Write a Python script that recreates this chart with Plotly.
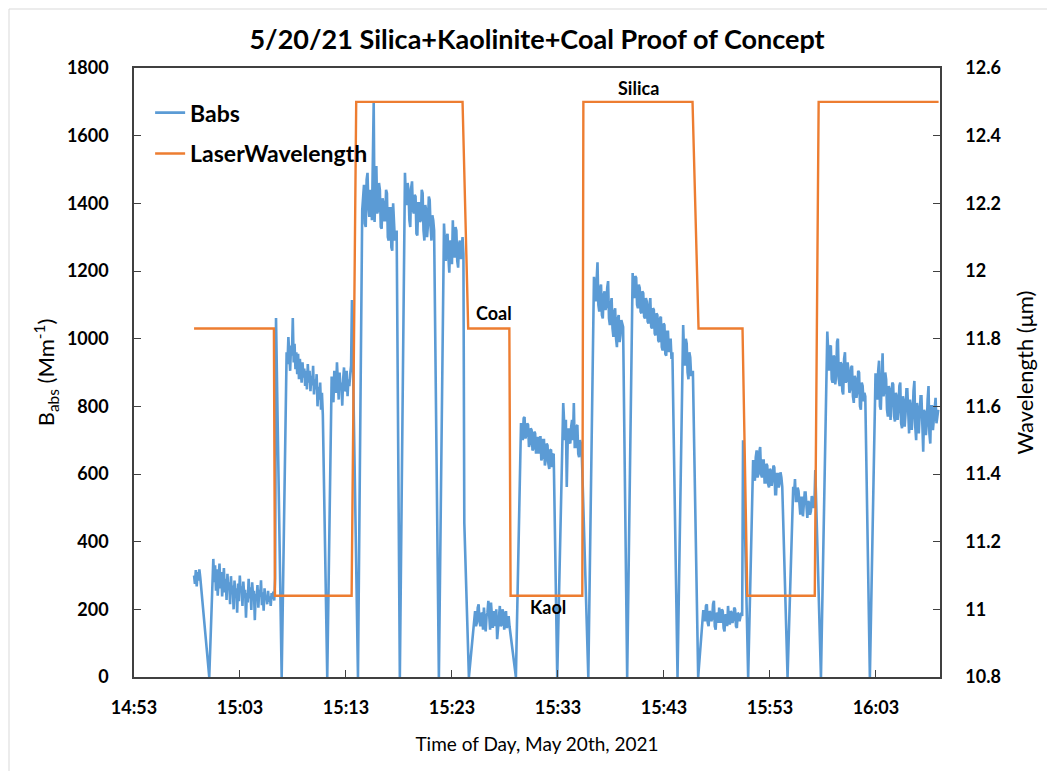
import pandas as pd
import plotly.graph_objects as go

DAY = "2021-05-20"
SAMPLE_STEP_S = 5  # Babs logger interval, seconds

# ---- Babs (Mm^-1) measurement runs: start time + one value per sample ----
run_a_start = "14:58:40"
run_a = [300, 275, 316, 268, 310, 285, 318, 295]

run_b_start = "15:00:29"
run_b = [349, 280, 330, 255, 318, 240, 300, 335, 262, 310, 238, 296, 322, 250,
         290, 228, 305, 260, 280, 215, 298, 245, 270, 200, 285, 236, 262, 190,
         276, 224, 300, 252, 268, 210, 282, 242, 258, 175, 248, 220, 290, 232,
         265, 198, 280, 240, 255, 168, 246, 228, 272, 205, 258, 237, 286, 212,
         250, 196, 262, 230, 240, 215, 255, 222, 238, 210, 248, 230, 252, 226,
         293, 1061]

run_c_start = "15:07:24"
run_c = [960, 925, 1005, 940, 905, 980, 950, 1061, 930, 985, 910, 960, 895, 955,
         880, 940, 905, 870, 930, 885, 912, 860, 905, 850, 925, 870, 905, 845,
         890, 862, 920, 835, 880, 850, 895, 800, 858, 820, 870, 790, 840, 775]

run_d_start = "15:11:39"
run_d = [888, 840, 812, 905, 860, 840, 930, 870, 820, 900, 850, 870, 802, 880,
         915, 845, 850, 905, 830, 880, 860, 895, 920, 1114]

run_e_start = "15:14:32"
run_e = [1380, 1430, 1455, 1340, 1330, 1470, 1490, 1390, 1360, 1440, 1420, 1350, 1480, 1697,
         1345, 1420, 1510, 1370, 1380, 1460, 1440, 1330, 1325, 1415, 1400, 1350, 1350, 1440,
         1430, 1300, 1290, 1385, 1385, 1270, 1260, 1400, 1350, 1290, 1300, 1320]

run_f_start = "15:18:34"
run_f = [1490, 1420, 1395, 1460, 1440, 1350, 1330, 1445, 1465, 1380, 1370, 1425, 1420, 1310,
         1305, 1400, 1400, 1345, 1350, 1440, 1430, 1320, 1290, 1395, 1380, 1300, 1335, 1420,
         1410, 1330, 1290, 1365, 1350, 1320]

run_g_start = "15:22:15"
run_g = [1340, 1280, 1230, 1300, 1310, 1240, 1195, 1290, 1285, 1220, 1350, 1260, 1240, 1330,
         1320, 1230, 1210, 1280, 1290, 1235, 1260, 1300, 1250, 455]

run_h_start = "15:25:01"
run_h = [140, 175, 195, 150, 160, 205, 215, 165, 150, 190, 185, 140, 205, 170,
         135, 180, 190, 225, 165, 140, 220, 175, 145, 195, 180, 150, 200, 112,
         165, 175, 210, 150, 155, 200, 190, 140, 170, 195, 145, 170, 180, 150]

run_i_start = "15:29:31"
run_i = [751, 720, 700, 765, 768, 705, 715, 750, 745, 680, 690, 735, 730, 670,
         675, 725, 720, 660, 695, 710, 660, 690, 712, 640, 650, 700, 700, 625,
         640, 690, 685, 630, 615, 670, 672, 620, 655, 660]

run_j_start = "15:33:30"
run_j = [810, 740, 700, 760, 562, 690, 735, 700, 690, 740, 760, 700, 810, 680,
         680, 740, 745, 660, 650, 700, 690, 662]

run_k_start = "15:36:24"
run_k = [1183, 1120, 1110, 1170, 1226, 1100, 1080, 1150, 1160, 1070, 1060, 1130, 1140, 1085,
         1095, 1150, 1170, 1060, 1040, 1100, 1120, 1030, 1005, 1080, 1090, 1000, 975, 1060,
         1070, 990, 1010, 1055, 1040, 1035]

run_l_start = "15:40:03"
run_l = [1194, 1130, 1120, 1185, 1180, 1100, 1090, 1160, 1150, 1080, 1075, 1140, 1135, 1065,
         1060, 1120, 1110, 1050, 1045, 1100, 1120, 1035, 1030, 1090, 1085, 1015, 1010, 1075,
         1070, 995, 990, 1060, 1065, 975, 965, 1045, 1040, 955, 950, 1020, 1020, 960,
         985, 1000, 940, 960]

run_m_start = "15:44:49"
run_m = [1040, 960, 920, 1000, 985, 900, 880, 960, 945, 890, 900, 905]

run_n_start = "15:46:43"
run_n = [198, 175, 165, 210, 215, 160, 150, 195, 190, 165, 172, 215, 225, 150,
         140, 190, 185, 160, 205, 175, 160, 200, 195, 145, 135, 185, 180, 150,
         210, 170, 155, 195, 190, 160, 170, 205, 200, 150, 145, 190, 185, 165,
         175, 190, 180, 700]

run_o_start = "15:51:25"
run_o = [641, 600, 580, 650, 670, 590, 600, 665, 680, 600, 590, 640, 640, 575,
         575, 630, 625, 570, 560, 615, 610, 565, 585, 625, 620, 540, 540, 600,
         600, 560, 575, 605, 590, 562]

run_p_start = "15:55:12"
run_p = [562, 540, 585, 520, 520, 560, 550, 490, 480, 530, 530, 475, 500, 545,
         545, 490, 470, 520, 515, 480, 490, 535, 525, 500, 510, 612]

run_q_start = "15:58:25"
run_q = [1021, 940, 905, 975, 980, 880, 870, 950, 945, 865, 890, 990, 1000, 880,
         860, 930, 925, 845, 835, 940, 960, 870, 880, 930, 905, 840, 850, 915,
         920, 830, 810, 890, 880, 825, 845, 905, 900, 800, 790, 870, 860, 815,
         840, 829]

run_r_start = "16:02:58"
run_r = [898, 850, 820, 905, 935, 800, 790, 880, 957, 830, 845, 900, 880, 790,
         770, 860, 850, 760, 800, 870, 865, 770, 755, 840, 830, 760, 790, 860,
         870, 750, 735, 830, 815, 740, 780, 850, 850, 740, 720, 820, 800, 730,
         770, 845, 875, 740, 700, 810, 790, 720, 760, 830, 830, 690, 666, 790,
         780, 715, 745, 820, 860, 720, 690, 800, 800, 730, 760, 815, 825, 750,
         780, 790]

# Filter-change dropouts, logged as zero
dropout_times = ["15:00:06", "15:06:56", "15:11:14", "15:14:08", "15:18:05",
                 "15:21:46", "15:24:36", "15:29:02", "15:32:56", "15:35:52",
                 "15:39:32", "15:44:17", "15:46:14", "15:50:57", "15:54:40",
                 "15:57:49", "16:02:26"]

# ---- Laser wavelength (um) set points ----
laser_times = ["14:58:40", "15:06:12", "15:06:18", "15:13:32", "15:13:58",
               "15:24:00", "15:24:32", "15:28:25", "15:28:32", "15:35:18",
               "15:35:24", "15:45:42", "15:46:16", "15:50:25", "15:50:52",
               "15:57:14", "15:57:36", "16:08:55"]
laser_um = [11.83, 11.83, 11.04, 11.04, 12.50,
            12.50, 11.83, 11.83, 11.04, 11.04,
            12.50, 12.50, 11.83, 11.83, 11.04,
            11.04, 12.50, 12.50]

# Material labels
label_text = ["Silica", "Coal", "Kaol"]
label_time = ["15:40:38", "15:26:58", "15:32:04"]
label_babs = [1741, 1076, 207]

# Axis ticks
x_tick_times = ["14:53", "15:03", "15:13", "15:23", "15:33", "15:43", "15:53", "16:03"]
y_left_ticks = [0, 200, 400, 600, 800, 1000, 1200, 1400, 1600, 1800]
y_right_ticks = [10.8, 11.0, 11.2, 11.4, 11.6, 11.8, 12.0, 12.2, 12.4, 12.6]
y_right_text = ["10.8", "11", "11.2", "11.4", "11.6", "11.8", "12", "12.2", "12.4", "12.6"]


def ts(hms):
    return pd.Timestamp(f"{DAY} {hms}")


runs = [(run_a_start, run_a), (run_b_start, run_b), (run_c_start, run_c),
        (run_d_start, run_d), (run_e_start, run_e), (run_f_start, run_f),
        (run_g_start, run_g), (run_h_start, run_h), (run_i_start, run_i),
        (run_j_start, run_j), (run_k_start, run_k), (run_l_start, run_l),
        (run_m_start, run_m), (run_n_start, run_n), (run_o_start, run_o),
        (run_p_start, run_p), (run_q_start, run_q), (run_r_start, run_r)]

parts = []
for start, vals in runs:
    t = pd.date_range(ts(start), periods=len(vals), freq=f"{SAMPLE_STEP_S}s")
    parts.append(pd.Series(vals, index=t, dtype=float))
parts.append(pd.Series(0.0, index=pd.DatetimeIndex([ts(h) for h in dropout_times])))
babs = pd.concat(parts).sort_index()

FONT = "Lato"
BLUE = "#5B9BD5"
ORANGE = "#ED7D31"
AXIS = "#404040"

fig = go.Figure()
fig.add_trace(go.Scatter(x=babs.index, y=babs.values, mode="lines", name="Babs",
                         legendgroup="babs",
                         line=dict(color=BLUE, width=2.6)))
fig.add_trace(go.Scatter(x=[ts(h) for h in laser_times], y=laser_um, mode="lines",
                         name="LaserWavelength", yaxis="y2", legendgroup="laser",
                         line=dict(color=ORANGE, width=2.4)))

for txt, t, v in zip(label_text, label_time, label_babs):
    fig.add_annotation(x=ts(t), y=v, text=txt, showarrow=False,
                       font=dict(family=FONT, size=18, color="black", weight="bold"))

# light chart-area frame
fig.add_shape(type="rect", xref="paper", yref="paper",
              x0=(9 - 134) / 806, x1=(1070 - 134) / 806,
              y0=(677 - 790) / 609, y1=(677 - 9) / 609,
              line=dict(color="#D9D9D9", width=1), fillcolor="rgba(0,0,0,0)",
              layer="below")

fig.update_layout(
    width=1047, height=771,
    margin=dict(l=134, r=107, t=68, b=94, autoexpand=False),
    paper_bgcolor="white", plot_bgcolor="white",
    font=dict(family=FONT, color="black"),
    title=dict(text="5/20/21 Silica+Kaolinite+Coal Proof of Concept",
               x=0.5, xref="paper", xanchor="center",
               y=1 - 40 / 771, yref="container", yanchor="middle",
               font=dict(family=FONT, size=27, color="black", weight="bold")),
    showlegend=True,
    legend=dict(x=0.02, y=0.962, xanchor="left", yanchor="top",
                bgcolor="rgba(0,0,0,0)",
                font=dict(family=FONT, size=23, color="black", weight="bold"),
                traceorder="grouped", tracegroupgap=8),
    xaxis=dict(type="date",
               range=[ts("14:53:00"), ts("16:09:03")],
               tickvals=[ts(h) for h in x_tick_times], ticktext=x_tick_times,
               ticks="inside", ticklen=7, tickcolor=AXIS, tickwidth=1.3,
               showline=True, linecolor=AXIS, linewidth=1.5, mirror=True,
               showgrid=False, zeroline=False,
               ticklabelstandoff=14,
               tickfont=dict(family=FONT, size=18, color="black", weight="bold"),
               title=dict(text="Time of Day, May 20th, 2021", standoff=20,
                          font=dict(family=FONT, size=19, color="black"))),
    yaxis=dict(range=[0, 1800], tickvals=y_left_ticks,
               ticks="inside", ticklen=7, tickcolor=AXIS, tickwidth=1.3,
               showline=True, linecolor=AXIS, linewidth=1.5,
               showgrid=False, zeroline=False,
               ticklabelstandoff=20,
               tickfont=dict(family=FONT, size=18, color="black", weight="bold"),
               title=dict(text="B<sub>abs</sub> (Mm<sup>-1</sup>)", standoff=6,
                          font=dict(family=FONT, size=22, color="black"))),
    yaxis2=dict(range=[10.8, 12.6], overlaying="y", side="right",
                tickvals=y_right_ticks, ticktext=y_right_text,
                ticks="inside", ticklen=7, tickcolor=AXIS, tickwidth=1.3,
                showline=True, linecolor=AXIS, linewidth=1.5,
                showgrid=False, zeroline=False,
                ticklabelstandoff=20,
                tickfont=dict(family=FONT, size=18, color="black", weight="bold"),
                title=dict(text="Wavelength (\u03bcm)", standoff=18,
                           font=dict(family=FONT, size=22, color="black"))),
)

fig.write_html("out.html")
